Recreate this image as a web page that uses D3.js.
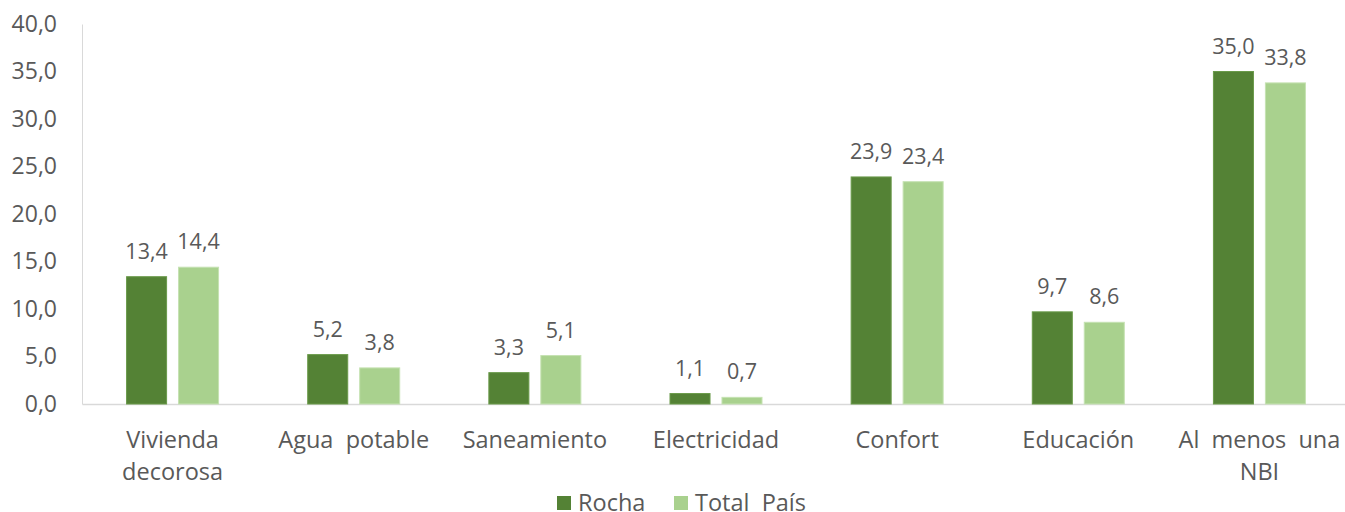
<!doctype html>
<html>
<head>
<script src="https://d3js.org/d3.v7.min.js"></script>
<style>
  body { margin: 0; background: #fff; }
  text { font-family: "Open Sans", sans-serif; fill: #595959; }
</style>
</head>
<body>
<svg width="1345" height="512" id="chart"></svg>
<script>
// data
var categories = ["Vivienda decorosa", "Agua potable", "Saneamiento", "Electricidad", "Confort", "Educación", "Al menos una NBI"];
var categoryLines = [["Vivienda", "decorosa"], ["Agua  potable"], ["Saneamiento"], ["Electricidad"], ["Confort"], ["Educación"], ["Al  menos  una", "NBI"]];
var seriesNames = ["Rocha", "Total  País"];
var rocha = [13.4, 5.2, 3.3, 1.1, 23.9, 9.7, 35.0];
var totalPais = [14.4, 3.8, 5.1, 0.7, 23.4, 8.6, 33.8];
var yTicks = [0, 5, 10, 15, 20, 25, 30, 35, 40];

var colors = ["#548235", "#A9D18E"];
var fmt = function (v) { return d3.format(".1f")(v).replace(".", ","); };

var svg = d3.select("#chart");
var mLeft = 82, mRight = 1350, mTop = 24, mBottom = 404;

var x = d3.scaleBand().domain(categories).range([mLeft, mRight]).padding(0);
var y = d3.scaleLinear().domain([0, 40]).range([mBottom, mTop]);

// y axis
var yAxis = svg.append("g")
  .attr("transform", "translate(" + mLeft + ",0)")
  .call(d3.axisLeft(y).tickValues(yTicks).tickFormat(fmt).tickSize(0).tickPadding(25));
yAxis.select(".domain").attr("stroke", "#d9d9d9");
yAxis.selectAll("text").style("font-size", "23px").style("font-family", "'Open Sans', sans-serif").attr("fill", "#595959");

// x axis
var xAxis = svg.append("g")
  .attr("transform", "translate(0," + mBottom + ")")
  .call(d3.axisBottom(x).tickSize(0).tickSizeOuter(0).tickFormat(""));
xAxis.select(".domain").attr("stroke", "#d9d9d9").attr("stroke-width", 1.5);
xAxis.selectAll(".tick text").remove();
xAxis.selectAll(".tick").each(function (d, i) {
  var t = d3.select(this).append("text")
    .attr("text-anchor", "middle")
    .style("font-size", "23.5px")
    .style("white-space", "pre")
    .attr("fill", "#595959");
  categoryLines[i].forEach(function (line, j) {
    t.append("tspan").attr("x", 0).attr("y", 44 + j * 32).text(line);
  });
});

// bars
var series = [rocha, totalPais];
var groups = svg.append("g").selectAll("g")
  .data(categories)
  .join("g")
  .attr("transform", function (d) { return "translate(" + x(d) + ",0)"; });

var inner = d3.scaleBand().domain([0, 1])
  .range([x.bandwidth() / 2 - 46, x.bandwidth() / 2 + 46])
  .paddingInner(0.23);

groups.each(function (c, i) {
  var g = d3.select(this);
  series.forEach(function (vals, s) {
    g.append("rect")
      .attr("x", inner(s))
      .attr("width", inner.bandwidth())
      .attr("y", y(vals[i]))
      .attr("height", mBottom - y(vals[i]))
      .attr("fill", colors[s])
      .attr("stroke", s === 0 ? "#6a9a4a" : "#c5e2b2")
      .attr("stroke-width", 1);
    g.append("text")
      .attr("x", inner(s) + inner.bandwidth() / 2)
      .attr("y", y(vals[i]) - 18)
      .attr("text-anchor", "middle")
      .style("font-size", "21.5px")
      .attr("fill", "#404040")
      .text(fmt(vals[i]));
  });
});

// legend
var legend = svg.append("g").attr("transform", "translate(557,496)");
var lx = [0, 117];
seriesNames.forEach(function (name, s) {
  legend.append("rect").attr("x", lx[s]).attr("y", 0).attr("width", 14).attr("height", 14).attr("fill", colors[s]);
  legend.append("text").attr("x", lx[s] + 21).attr("y", 15)
    .style("font-size", "23.5px").style("white-space", "pre").attr("fill", "#595959").text(name);
});
</script>
</body>
</html>
